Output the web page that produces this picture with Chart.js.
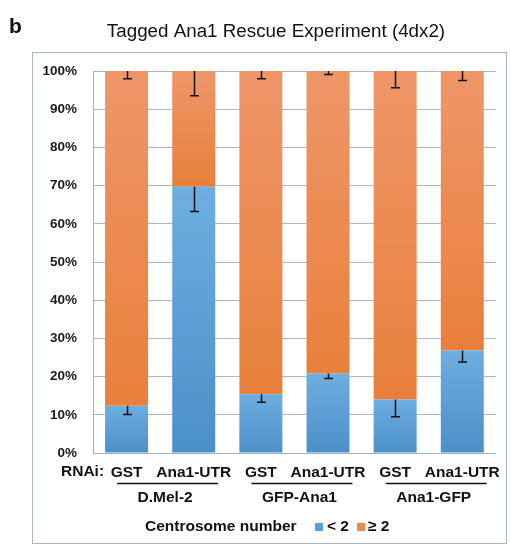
<!DOCTYPE html>
<html>
<head>
<meta charset="utf-8">
<script src="https://cdn.jsdelivr.net/npm/chart.js@4"></script>
<style>
  html, body { margin: 0; padding: 0; background: #fff; }
  #wrap { width: 511px; height: 549px; }
</style>
</head>
<body>
<div id="wrap"><canvas id="chart" width="511" height="549"></canvas></div>
<script>
// data (percent of cells)
const categories = ["GST", "Ana1-UTR", "GST", "Ana1-UTR", "GST", "Ana1-UTR"];
const groups = ["D.Mel-2", "GFP-Ana1", "Ana1-GFP"];
const lessThan2 = [12.4, 69.7, 15.4, 20.8, 14.0, 26.8];
const atLeast2 = [87.6, 30.3, 84.6, 79.2, 86.0, 73.2];
const errLessThan2 = [2.3, 6.5, 2.1, 1.3, 4.5, 3.0];
const errAtLeast2 = [2.0, 6.5, 2.0, 0.9, 4.4, 2.5];
const yTicks = [0, 10, 20, 30, 40, 50, 60, 70, 80, 90, 100];

const BLUE = ["#6eaee0", "#4b90c8"];
const ORANGE = ["#ef9669", "#e8803b"];
const FONT = "'Liberation Sans', Arial, sans-serif";

function segGradient(ctx, cols, lo, hi) {
  const chart = ctx.chart;
  const y = chart.scales.y;
  if (!chart.chartArea || !y) return cols[0];
  const top = y.getPixelForValue(hi);
  const bot = y.getPixelForValue(lo);
  const g = chart.ctx.createLinearGradient(0, top, 0, bot);
  g.addColorStop(0, cols[0]);
  g.addColorStop(1, cols[1]);
  return g;
}

const extras = {
  id: "extras",
  beforeDraw(chart) {
    const c = chart.ctx;
    c.save();
    c.fillStyle = "#fff";
    c.fillRect(0, 0, chart.width, chart.height);
    c.strokeStyle = "#a9b5c1";
    c.lineWidth = 1;
    c.strokeRect(32.5, 52.5, 474, 491);
    // panel letter + title
    c.fillStyle = "#111";
    c.font = "bold 21px " + FONT;
    c.textBaseline = "alphabetic";
    c.textAlign = "left";
    c.fillText("b", 9, 33);
    c.font = "18.8px " + FONT;
    c.textAlign = "center";
    c.fillText("Tagged Ana1 Rescue Experiment (4dx2)", 276, 37);
    c.restore();
  },
  afterDatasetsDraw(chart) {
    const c = chart.ctx;
    const x = chart.scales.x;
    const y = chart.scales.y;
    c.save();
    c.strokeStyle = "#111";
    c.lineWidth = 1.5;
    const bar = (px, from, to) => {
      const a = y.getPixelForValue(from);
      const b = y.getPixelForValue(to);
      c.beginPath();
      c.moveTo(px, a);
      c.lineTo(px, b);
      c.moveTo(px - 4.5, b);
      c.lineTo(px + 4.5, b);
      c.stroke();
    };
    categories.forEach((_, i) => {
      const px = Math.round(x.getPixelForValue(i)) + 0.5;
      const top = lessThan2[i] + atLeast2[i];
      bar(px, top, top - errAtLeast2[i]);
      bar(px, lessThan2[i], lessThan2[i] - errLessThan2[i]);
    });

    // RNAi prefix, group lines and labels
    c.fillStyle = "#111";
    c.font = "bold 15.5px " + FONT;
    c.textBaseline = "middle";
    c.textAlign = "left";
    c.fillText("RNAi:", 61, 472);
    c.lineWidth = 1.5;
    groups.forEach((g, i) => {
      const mid = (x.getPixelForValue(2 * i) + x.getPixelForValue(2 * i + 1)) / 2;
      c.beginPath();
      c.moveTo(mid - 43, 483.5);
      c.lineTo(mid + 58, 483.5);
      c.stroke();
      c.textAlign = "center";
      c.fillText(g, mid + 5, 498);
    });

    // legend
    c.textAlign = "left";
    c.fillText("Centrosome number", 145, 527);
    c.fillStyle = "#5b9fd6";
    c.fillRect(315, 523, 8, 8);
    c.fillStyle = "#ec8848";
    c.fillRect(357, 523, 8, 8);
    c.fillStyle = "#111";
    c.fillText("< 2", 327, 527);
    c.fillText("\u2265 2", 368, 527);
    c.restore();
  }
};

new Chart(document.getElementById("chart"), {
  type: "bar",
  data: {
    labels: categories,
    datasets: [
      {
        label: "< 2",
        data: lessThan2,
        backgroundColor: (ctx) => segGradient(ctx, BLUE, 0, lessThan2[ctx.dataIndex] || 0),
        borderWidth: 0
      },
      {
        label: "\u2265 2",
        data: atLeast2,
        backgroundColor: (ctx) => {
          const i = ctx.dataIndex || 0;
          return segGradient(ctx, ORANGE, lessThan2[i], lessThan2[i] + atLeast2[i]);
        },
        borderWidth: 0
      }
    ]
  },
  options: {
    responsive: false,
    animation: false,
    layout: { padding: { top: 71, right: 15, bottom: 0, left: 0 } },
    datasets: { bar: { categoryPercentage: 0.64, barPercentage: 1 } },
    plugins: {
      legend: { display: false },
      tooltip: { enabled: false }
    },
    scales: {
      x: {
        stacked: true,
        afterFit: (s) => { s.height = 96; },
        grid: { display: false, drawTicks: false },
        border: { display: true, color: "#9fb3c6", width: 1 },
        ticks: {
          maxRotation: 0,
          autoSkip: false,
          padding: 10,
          color: "#111",
          font: { family: FONT, size: 15.5, weight: "bold" }
        }
      },
      y: {
        stacked: true,
        min: 0,
        max: 100,
        afterFit: (s) => { s.width = 93; },
        afterBuildTicks: (s) => { s.ticks = yTicks.map((v) => ({ value: v })); },
        grid: { color: "#a7bacb", lineWidth: 1, drawTicks: false },
        border: { display: true, color: "#9fb3c6", width: 1 },
        ticks: {
          padding: 16,
          color: "#1a1a1a",
          font: { family: FONT, size: 13.5, weight: "bold" },
          callback: (v) => v + "%"
        }
      }
    }
  },
  plugins: [extras]
});
</script>
</body>
</html>
